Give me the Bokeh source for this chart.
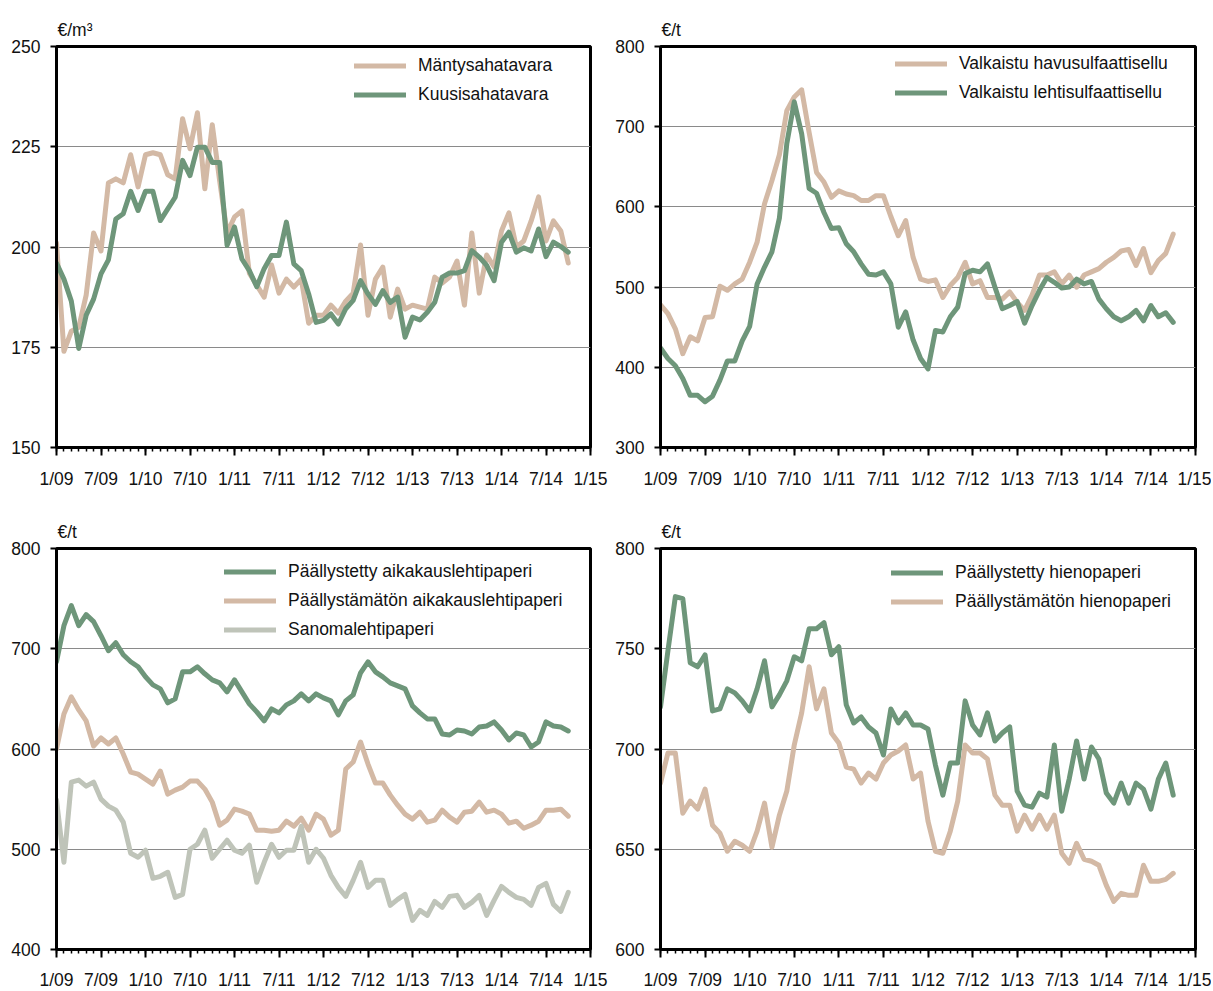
from bokeh.plotting import figure
from bokeh.models import FixedTicker, Range1d, Legend, LegendItem
from bokeh.layouts import column, row
from bokeh.embed import file_html
from bokeh.resources import INLINE

FONT = "'Liberation Sans', Arial, sans-serif"
FS = "17.5px"
TAN = "#d3b9a5"
GREEN = "#6e967a"
GRAY = "#bfc4b9"

months = list(range(70))
x_ticks = list(range(0, 73, 6))
x_tick_labels = ["1/09", "7/09", "1/10", "7/10", "1/11", "7/11", "1/12",
                 "7/12", "1/13", "7/13", "1/14", "7/14", "1/15"]

# Panel 1: sawn timber, EUR/m3
mantysahatavara = [201, 174, 179, 180, 188, 203.5, 199, 216, 217, 216,
                   223, 215, 223, 223.5, 223, 218, 217, 232, 224.5, 233.5,
                   214.5, 230.5, 216.5, 203.5, 207.5, 209, 193.5, 190.5, 187.5, 195.5,
                   188.5, 192, 190, 192, 181, 183, 183, 185.5, 183.5, 186.5,
                   188.5, 200.5, 183, 192, 195, 182.5, 189.5, 184.5, 185.5, 185,
                   184.5, 192.5, 191, 192.5, 196.5, 185.5, 203.5, 188.5, 198, 195,
                   204, 208.5, 200, 201.5, 206.5, 212.5, 201.5, 206.5, 204, 196]
kuusisahatavara = [196, 192, 186.5, 174.7, 183, 187, 193.3, 196.8, 207, 208.3,
                   213.9, 209.1, 213.9, 213.9, 206.6, 209.5, 212.4, 221.6, 217.8, 224.9,
                   224.9, 221.1, 221.1, 200.4, 205, 197, 194.1, 190.1, 194.6, 197.9,
                   197.9, 206.2, 195.8, 194.1, 188.3, 181.2, 181.7, 183.3, 180.8, 184.6,
                   186.7, 191.6, 188.3, 185.7, 189.1, 186.2, 187.5, 177.5, 182.5, 181.8,
                   183.7, 186.2, 192.5, 193.5, 193.5, 194.1, 199.1, 197.5, 195.4, 191.6,
                   201.2, 203.7, 198.7, 199.8, 199, 204.5, 197.6, 201.2, 200.1, 198.7]

# Panel 2: pulp, EUR/t
havusulfaattisellu = [478, 467, 448, 417, 438, 433, 462, 463, 501, 496,
                      504, 510, 531, 556, 604, 633, 665, 720, 737, 746,
                      693, 643, 631, 612, 620, 616, 614, 608, 608, 614,
                      614, 588, 564, 583, 537, 510, 507, 509, 487, 502,
                      512, 531, 504, 508, 487, 487, 485, 494, 481, 471,
                      490, 515, 515, 519, 504, 515, 500, 515, 519, 523,
                      531, 537, 545, 547, 527, 548, 518, 533, 542, 566]
lehtisulfaattisellu = [424, 411, 402, 386, 365, 365, 357, 364, 384, 408,
                       408, 433, 451, 504, 525, 544, 586, 679, 731, 691,
                       623, 617, 593, 573, 574, 554, 544, 529, 516, 515,
                       519, 504, 450, 469, 434, 411, 398, 446, 444, 463,
                       475, 517, 521, 519, 529, 500, 473, 477, 482, 455,
                       477, 496, 512, 506, 499, 500, 510, 504, 507, 485,
                       473, 463, 458, 463, 471, 458, 477, 463, 468, 456]

# Panel 3: magazine paper and newsprint, EUR/t
paallystetty_aikak = [687, 723, 743, 723, 734, 727, 713, 698, 706, 694,
                      687, 682, 672, 664, 660, 646, 650, 677, 677, 682,
                      675, 669, 666, 657, 669, 657, 645, 637, 628, 640,
                      636, 644, 648, 655, 648, 655, 651, 648, 634, 648,
                      654, 676, 687, 677, 672, 666, 663, 660, 643, 636,
                      630, 630, 615, 614, 619, 618, 615, 622, 623, 627,
                      619, 609, 616, 614, 602, 607, 627, 623, 622, 618]
paallystamaton_aikak = [600, 635, 652, 639, 628, 603, 611, 605, 611, 595,
                        577, 575, 570, 565, 578, 555, 559, 562, 568, 568,
                        560, 547, 524, 529, 540, 538, 535, 519, 519, 518,
                        519, 528, 523, 531, 519, 535, 530, 514, 519, 580,
                        587, 607, 585, 566, 566, 554, 544, 535, 530, 537,
                        527, 529, 539, 532, 527, 537, 538, 547, 537, 539,
                        535, 526, 528, 521, 524, 528, 539, 539, 540, 533]
sanomalehtipaperi = [549, 487, 567, 569, 563, 567, 550, 543, 539, 527,
                     496, 492, 499, 471, 473, 477, 452, 455, 500, 505,
                     519, 491, 500, 509, 499, 496, 504, 467, 487, 505,
                     492, 499, 499, 523, 487, 500, 491, 474, 462, 453,
                     469, 487, 462, 469, 469, 444, 450, 455, 429, 439,
                     434, 448, 442, 453, 454, 442, 447, 454, 434, 449,
                     463, 457, 452, 450, 444, 462, 466, 445, 438, 457]

# Panel 4: fine paper, EUR/t
paallystetty_hieno = [721, 749, 776, 775, 743, 741, 747, 719, 720, 730,
                      728, 724, 719, 730, 744, 721, 727, 734, 746, 744,
                      760, 760, 763, 747, 751, 722, 713, 716, 711, 708,
                      697, 720, 713, 718, 712, 712, 710, 692, 677, 693,
                      693, 724, 712, 707, 718, 704, 708, 711, 679, 672,
                      671, 678, 676, 702, 669, 685, 704, 685, 701, 695,
                      678, 673, 683, 673, 683, 680, 670, 685, 693, 677]
paallystamaton_hieno = [683, 698, 698, 668, 674, 670, 680, 662, 658, 649,
                        654, 652, 649, 659, 673, 651, 667, 679, 702, 718,
                        741, 720, 730, 708, 703, 691, 690, 683, 688, 685,
                        693, 697, 699, 702, 685, 688, 664, 649, 648, 659,
                        674, 702, 698, 698, 695, 677, 672, 672, 659, 667,
                        660, 667, 660, 667, 648, 643, 653, 645, 644, 642,
                        632, 624, 628, 627, 627, 642, 634, 634, 635, 638]


def make_panel(unit, y0, y1, ystep, series, legend_order, legend_xy,
               L, R, T, B, fw, xstand):
    p = figure(frame_width=fw, frame_height=401,
               x_range=Range1d(0, 72), y_range=Range1d(y0, y1),
               output_backend="svg", toolbar_location=None,
               min_border_left=L, min_border_right=R,
               min_border_top=T, min_border_bottom=B, title=unit)
    p.title.text_font = FONT
    p.title.text_font_size = FS
    p.title.text_font_style = "normal"
    p.title.text_color = "#111111"
    p.title.align = "left"
    p.title.offset = 1
    try:
        p.title.standoff = 14
    except Exception:
        pass

    p.xaxis.ticker = FixedTicker(ticks=x_ticks, minor_ticks=list(range(73)))
    p.xaxis.major_label_overrides = dict(zip(x_ticks, x_tick_labels))
    p.xaxis.major_tick_out = 8
    p.xaxis.major_tick_in = 0
    p.xaxis.minor_tick_out = 4
    p.xaxis.minor_tick_in = 0
    p.xaxis.major_tick_line_width = 2
    p.xaxis.minor_tick_line_width = 1.5
    p.xaxis.major_label_standoff = xstand

    p.yaxis.ticker = FixedTicker(ticks=list(range(y0, y1 + 1, ystep)))
    p.yaxis.major_tick_out = 6
    p.yaxis.major_tick_in = 0
    p.yaxis.minor_tick_line_color = None
    p.yaxis.major_tick_line_width = 2
    p.yaxis.major_label_standoff = 10

    for ax in (p.xaxis, p.yaxis):
        ax.axis_line_width = 3
        ax.axis_line_color = "black"
        ax.major_tick_line_color = "black"
        ax.major_label_text_font = FONT
        ax.major_label_text_font_size = FS
        ax.major_label_text_color = "#111111"

    p.xgrid.visible = False
    p.ygrid.grid_line_color = "#8a8a8a"
    p.ygrid.grid_line_width = 1
    p.outline_line_color = "black"
    p.outline_line_width = 3
    p.outline_line_alpha = 1.0

    rends = {}
    for label, vals, color in series:
        rends[label] = p.line(months, vals, line_color=color, line_width=5,
                              line_join="round", line_cap="round")

    legend = Legend(items=[LegendItem(label=lab, renderers=[rends[lab]])
                           for lab in legend_order],
                    location=legend_xy, border_line_color=None,
                    background_fill_alpha=0, padding=0, margin=0, spacing=8,
                    glyph_width=52, glyph_height=21, label_height=21,
                    label_standoff=12, label_text_font=FONT,
                    label_text_font_size=FS, label_text_color="#111111")
    p.add_layout(legend)
    return p


p1 = make_panel("€/m³", 150, 250, 25,
                [("Mäntysahatavara", mantysahatavara, TAN),
                 ("Kuusisahatavara", kuusisahatavara, GREEN)],
                ["Mäntysahatavara", "Kuusisahatavara"], (298, 342),
                56, 18, 46, 50, 534, 13)
p2 = make_panel("€/t", 300, 800, 100,
                [("Valkaistu havusulfaattisellu", havusulfaattisellu, TAN),
                 ("Valkaistu lehtisulfaattisellu", lehtisulfaattisellu, GREEN)],
                ["Valkaistu havusulfaattisellu", "Valkaistu lehtisulfaattisellu"],
                (235, 344), 52, 16, 46, 50, 535, 13)
p3 = make_panel("€/t", 400, 800, 100,
                [("Päällystämätön aikakauslehtipaperi", paallystamaton_aikak, TAN),
                 ("Sanomalehtipaperi", sanomalehtipaperi, GRAY),
                 ("Päällystetty aikakauslehtipaperi", paallystetty_aikak, GREEN)],
                ["Päällystetty aikakauslehtipaperi",
                 "Päällystämätön aikakauslehtipaperi", "Sanomalehtipaperi"],
                (168, 309), 56, 18, 51, 42, 534, 12)
p4 = make_panel("€/t", 600, 800, 50,
                [("Päällystetty hienopaperi", paallystetty_hieno, GREEN),
                 ("Päällystämätön hienopaperi", paallystamaton_hieno, TAN)],
                ["Päällystetty hienopaperi", "Päällystämätön hienopaperi"],
                (231, 337), 52, 16, 51, 42, 535, 12)

layout = column(row(p1, p2), row(p3, p4))
open("out.html", "w").write(file_html(layout, INLINE))
